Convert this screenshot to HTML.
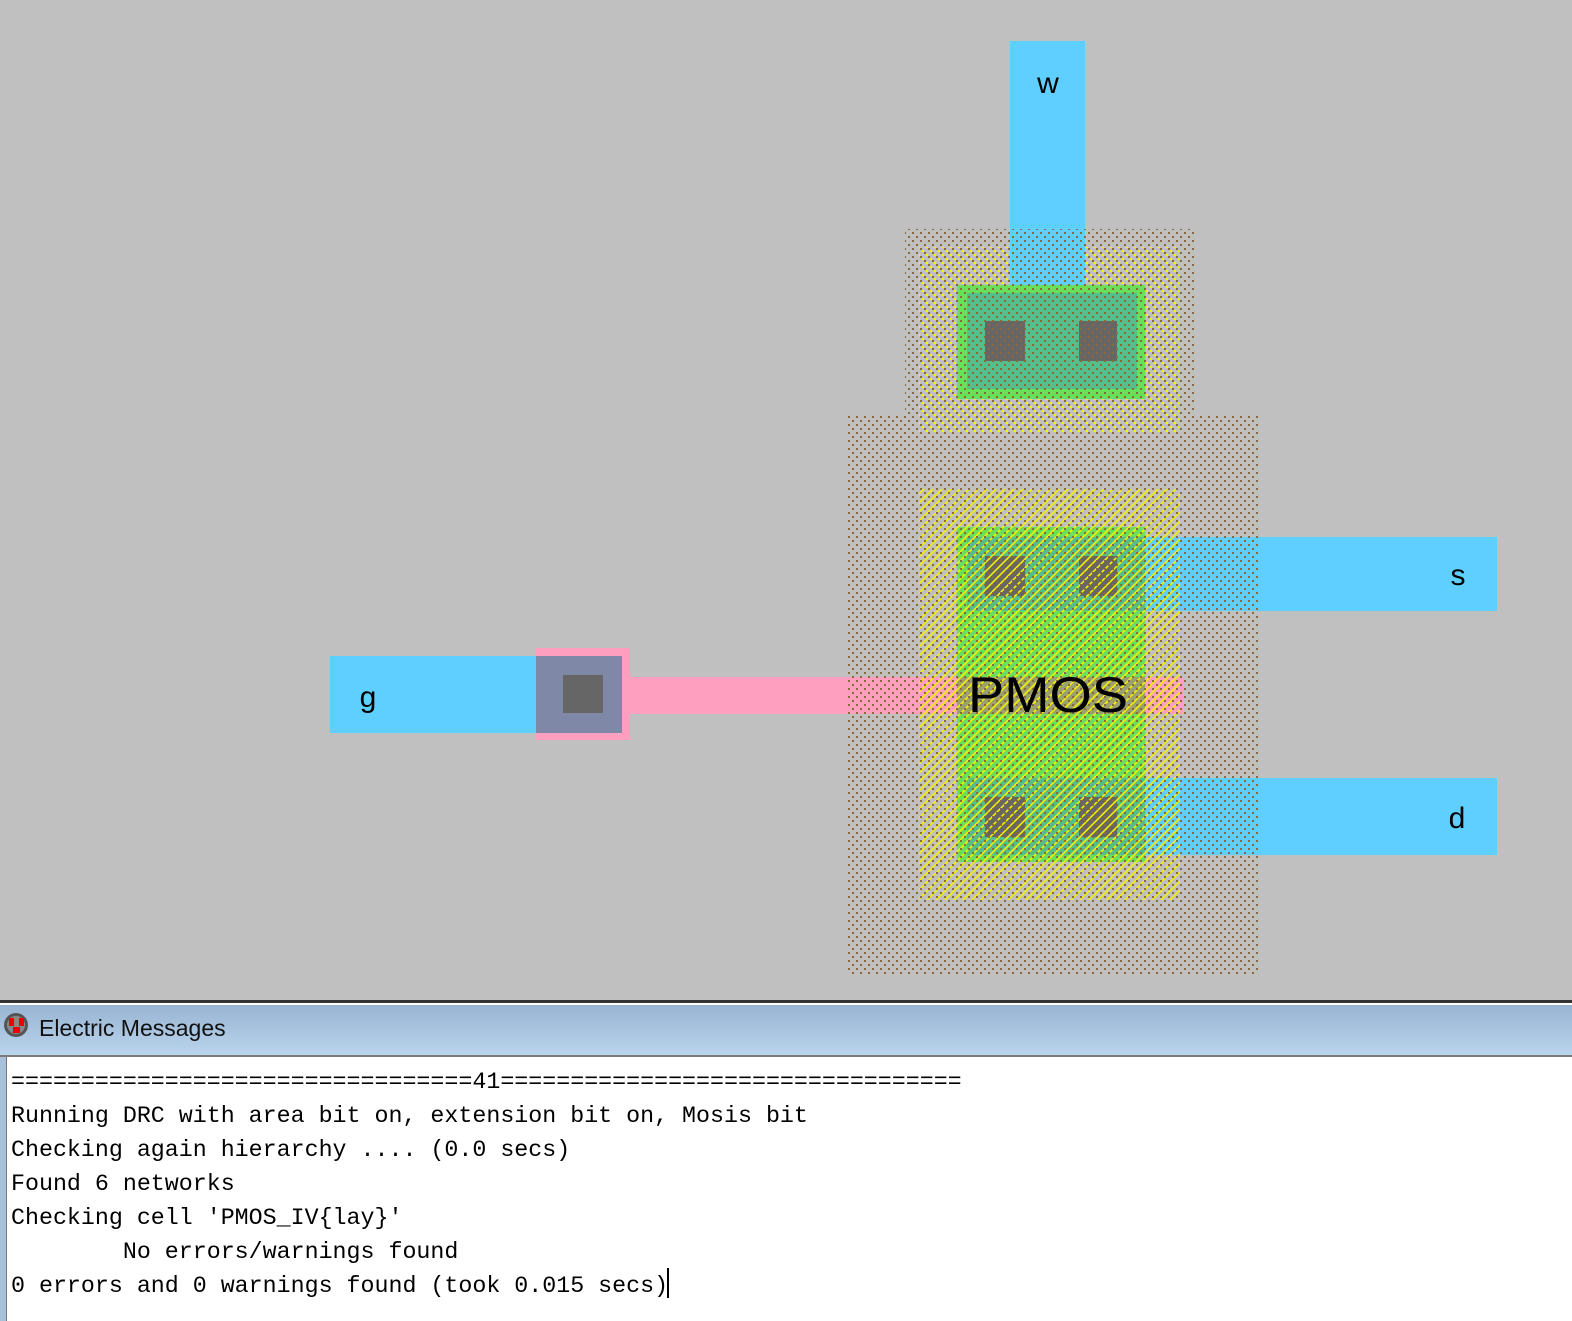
<!DOCTYPE html>
<html><head><meta charset="utf-8"><style>
html,body{margin:0;padding:0;width:1572px;height:1321px;overflow:hidden;background:#c0c0c0}
</style></head><body>
<svg width="1572" height="1321" xmlns="http://www.w3.org/2000/svg" style="position:absolute;left:0;top:0">
<defs>
<pattern id="brown" width="8" height="8" patternUnits="userSpaceOnUse">
<rect x="0" y="0" width="2" height="2" fill="#8a6a3a"/><rect x="4" y="4" width="2" height="2" fill="#8a6a3a"/>
</pattern>
<pattern id="ydot" width="8" height="8" patternUnits="userSpaceOnUse">
<rect x="2" y="2" width="2" height="2" fill="#f5f500"/><rect x="6" y="6" width="2" height="2" fill="#f5f500"/>
</pattern>
<pattern id="hatch" width="9" height="9" patternUnits="userSpaceOnUse">
<path d="M-1,10 L10,-1" stroke="#f0f000" stroke-width="1.6"/>
<path d="M-2,2 L2,-2 M7,11 L11,7" stroke="#f0f000" stroke-width="1.6"/>
</pattern>
</defs>
<rect x="0" y="0" width="1572" height="1000" fill="#c0c0c0"/>
<rect x="905" y="229" width="290" height="190" fill="url(#brown)"/>
<rect x="848" y="416" width="410" height="558" fill="url(#brown)"/>
<rect x="919" y="247" width="260" height="186" fill="url(#ydot)"/>
<rect x="1010" y="41" width="75" height="250" fill="#5fcfff"/>
<rect x="957" y="285" width="188" height="114" fill="#6ae05a"/>
<rect x="967" y="293" width="170" height="96" fill="#56be8c"/>
<rect x="985" y="321" width="40" height="40" fill="#666"/>
<rect x="1079" y="321" width="38" height="40" fill="#666"/>
<rect x="1137" y="537" width="360" height="74" fill="#5fcfff"/>
<rect x="1137" y="778" width="360" height="77" fill="#5fcfff"/>
<rect x="957" y="527" width="188" height="335" fill="#6ae05a"/>
<rect x="967" y="537" width="178" height="74" fill="#56be8c"/>
<rect x="967" y="778" width="178" height="77" fill="#56be8c"/>
<rect x="985" y="556" width="40" height="40" fill="#666"/>
<rect x="1079" y="556" width="38" height="40" fill="#666"/>
<rect x="985" y="797" width="40" height="40" fill="#666"/>
<rect x="1079" y="797" width="38" height="40" fill="#666"/>
<rect x="620" y="677" width="563" height="37" fill="#ff9fc0"/>
<rect x="957" y="677" width="188" height="37" fill="#9aa070"/>
<rect x="330" y="656" width="206" height="77" fill="#5fcfff"/>
<rect x="536" y="648" width="94" height="92" fill="#ff9fc0"/>
<rect x="536" y="656" width="86" height="77" fill="#8088a8"/>
<rect x="563" y="675" width="40" height="38" fill="#666"/>
<rect x="919" y="489" width="261" height="411" fill="url(#hatch)"/>
<rect x="848" y="416" width="410" height="558" fill="url(#brown)"/>
<rect x="905" y="229" width="290" height="187" fill="url(#brown)"/>
<text x="1048" y="93" font-family="Liberation Sans, sans-serif" font-size="30" text-anchor="middle" fill="#000">w</text>
<text x="1458" y="585" font-family="Liberation Sans, sans-serif" font-size="30" text-anchor="middle" fill="#000">s</text>
<text x="1457" y="828" font-family="Liberation Sans, sans-serif" font-size="30" text-anchor="middle" fill="#000">d</text>
<text x="368" y="707" font-family="Liberation Sans, sans-serif" font-size="30" text-anchor="middle" fill="#000">g</text>
<text x="1048" y="712" font-family="Liberation Sans, sans-serif" font-size="50" text-anchor="middle" fill="#000" textLength="160" lengthAdjust="spacingAndGlyphs">PMOS</text>
<rect x="0" y="1000" width="1572" height="3" fill="#333"/>
<rect x="0" y="1003" width="1572" height="2" fill="#fff"/>
<linearGradient id="tb" x1="0" y1="0" x2="0" y2="1"><stop offset="0" stop-color="#98b4d2"/><stop offset="1" stop-color="#bad4ec"/></linearGradient>
<rect x="0" y="1005" width="1572" height="50" fill="url(#tb)"/>
<rect x="0" y="1055" width="1572" height="2" fill="#7a7a7a"/>
<rect x="0" y="1057" width="1572" height="264" fill="#fff"/>
<rect x="0" y="1057" width="6" height="264" fill="#a8c0d8"/>
<rect x="6" y="1057" width="1" height="264" fill="#777"/>
<circle cx="16" cy="1025" r="12" fill="#555"/><circle cx="16" cy="1025" r="9" fill="#888"/>
<rect x="9" y="1018" width="5" height="8" fill="#e00"/><rect x="19" y="1018" width="5" height="8" fill="#e00"/><rect x="13" y="1027" width="7" height="6" fill="#e00"/>
<text x="39" y="1036" font-family="Liberation Sans, sans-serif" font-size="23" fill="#111">Electric Messages</text>
<g font-family="Liberation Mono, monospace" font-size="23.3" fill="#000">
<text x="11" y="1088">=================================41=================================</text>
<text x="11" y="1122">Running DRC with area bit on, extension bit on, Mosis bit</text>
<text x="11" y="1156">Checking again hierarchy .... (0.0 secs)</text>
<text x="11" y="1190">Found 6 networks</text>
<text x="11" y="1224">Checking cell 'PMOS_IV{lay}'</text>
<text x="11" y="1258" xml:space="preserve">        No errors/warnings found</text>
<text x="11" y="1292">0 errors and 0 warnings found (took 0.015 secs)</text>
</g>
<rect x="667" y="1268" width="2" height="30" fill="#000"/>
</svg>
</body></html>
